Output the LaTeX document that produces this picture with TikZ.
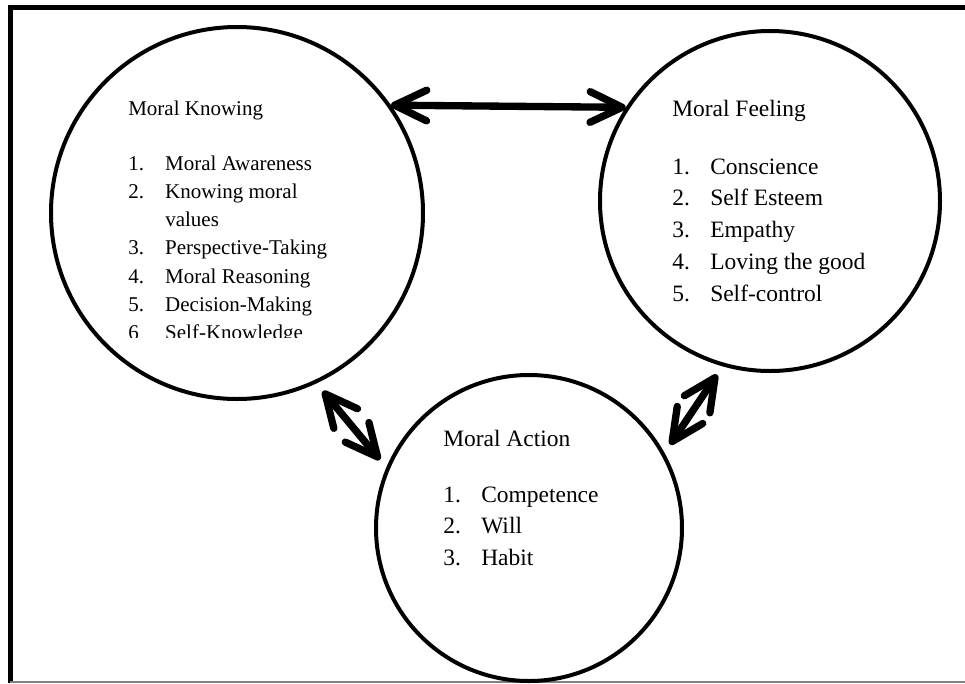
\documentclass[tikz,border=0pt]{standalone}
\usepackage{fontspec}
\setmainfont{Liberation Serif}
\usetikzlibrary{arrows.meta}

\tikzset{ring/.style={circle, draw, line width=3pt, inner sep=0pt}}
\tikzset{barb/.tip={Straight Barb[length=24pt, width=23pt, line cap=round, line join=round]}}
\tikzset{twoway/.style={line width=5.5pt, line cap=round, barb-barb}}
\tikzset{smalltxt/.style={anchor=base west, inner sep=0pt, font=\fontsize{15.75}{21.2}\selectfont}}
\tikzset{bigtxt/.style={anchor=base west, inner sep=0pt, font=\fontsize{17.6}{23.9}\selectfont}}

\begin{document}
\begin{tikzpicture}[x=0.75pt, y=-0.75pt]
  \useasboundingbox (0,0) rectangle (965,683);
  % frame
  \draw[line width=3.75pt] (10,683) -- (10,7.5) -- (965,7.5);
  \draw[gray, line width=1.5pt] (10,681.5) -- (965,681.5);

  % the three circles
  \node[ring, minimum size=279pt] (know) at (237,213) {};
  \node[ring, minimum size=255pt] (feel) at (770,201) {};
  \node[ring, minimum size=229.5pt] (act) at (529,528) {};

  % knowing
  \node[smalltxt] (knowhead) at (128,115) {Moral Knowing};
  \begin{scope}
    \clip (100,150) rectangle (360,337);
    \node[smalltxt] (knowlist) at (128,170) {\begin{tabular}[t]{@{}p{27.75pt}@{}l@{}}
      1. & Moral Awareness\\
      2. & Knowing moral\\
         & values\\
      3. & Perspective-Taking\\
      4. & Moral Reasoning\\
      5. & Decision-Making\\
      6  & Self-Knowledge
    \end{tabular}};
  \end{scope}

  % feeling
  \node[bigtxt] (feelhead) at (672,116) {Moral Feeling};
  \node[bigtxt] (feellist) at (672,174) {\begin{tabular}[t]{@{}p{28.5pt}@{}l@{}}
      1. & Conscience\\
      2. & Self Esteem\\
      3. & Empathy\\
      4. & Loving the good\\
      5. & Self-control
    \end{tabular}};

  % action
  \node[bigtxt] (acthead) at (443,446) {Moral Action};
  \node[bigtxt] (actlist) at (443,502) {\begin{tabular}[t]{@{}p{28.5pt}@{}l@{}}
      1. & Competence\\
      2. & Will\\
      3. & Habit
    \end{tabular}};

  % arrows between the circles
  \draw[twoway] (know.35) -- (feel.147);
  \draw[twoway, shorten <=7.5pt, shorten >=7.5pt] (know.-65) -- (act.157);
  \draw[twoway, shorten <=7.5pt, shorten >=7.5pt] (feel.254) -- (act.29);
\end{tikzpicture}
\end{document}
